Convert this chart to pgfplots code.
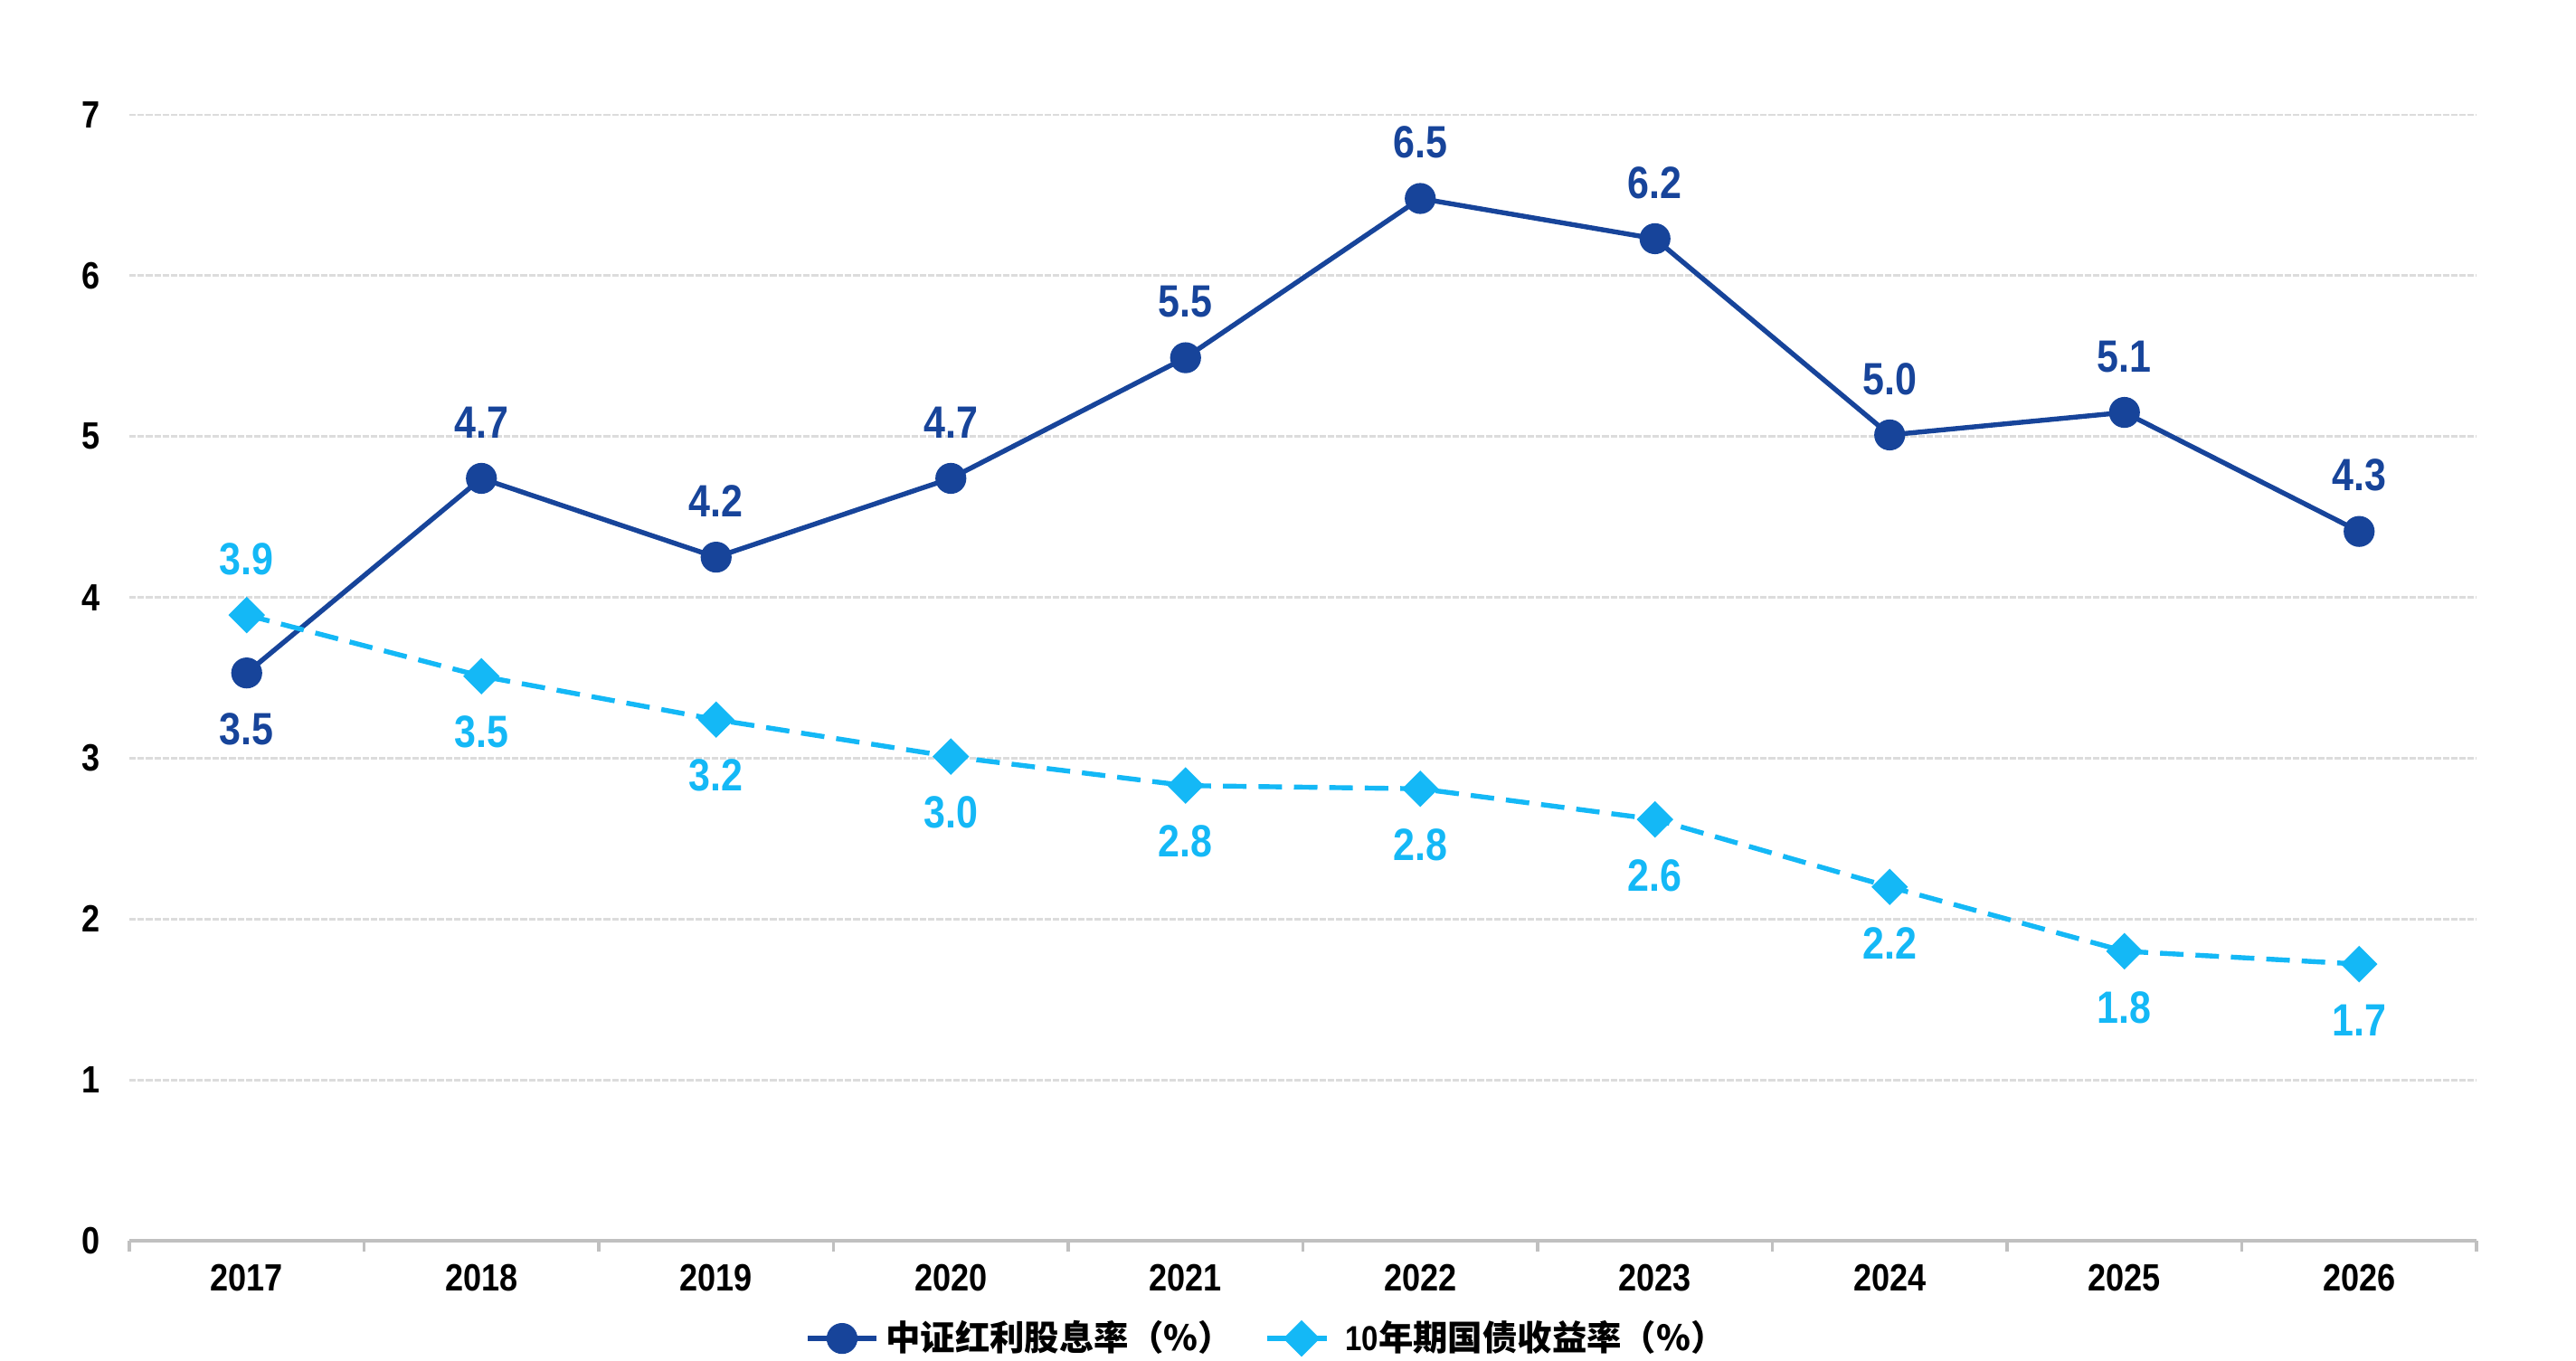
\documentclass[border=0pt]{standalone}
\usepackage{fontspec}
\setmainfont{Liberation Sans}[FakeStretch=0.86]
\newfontfamily\cjk{Noto Sans CJK SC}
\usepackage{pgfplots}
\pgfplotsset{compat=1.18}
\usepackage{pgfplotstable}
\definecolor{dkblue}{HTML}{17449A}
\definecolor{ltblue}{HTML}{14B8F6}
\definecolor{gridgray}{HTML}{DCDCDC}
\definecolor{axgray}{HTML}{C0C0C0}

\pgfplotstableread{
x y lab pos
0 3.53 3.5 -1
1 4.74 4.7 1
2 4.25 4.2 1
3 4.74 4.7 1
4 5.49 5.5 1
5 6.48 6.5 1
6 6.23 6.2 1
7 5.01 5.0 1
8 5.15 5.1 1
9 4.41 4.3 1
}\divtable

\pgfplotstableread{
x y lab pos
0 3.89 3.9 1
1 3.51 3.5 -1
2 3.24 3.2 -1
3 3.01 3.0 -1
4 2.83 2.8 -1
5 2.81 2.8 -1
6 2.62 2.6 -1
7 2.20 2.2 -1
8 1.80 1.8 -1
9 1.72 1.7 -1
}\bondtable

\begin{document}
\begin{tikzpicture}
\path[use as bounding box] (0,0) rectangle (712pt,376pt);
\begin{axis}[
  at={(35.75pt,33pt)}, anchor=south west,
  scale only axis, width=648.75pt, height=311.25pt,
  xmin=-0.5, xmax=9.5, ymin=0, ymax=7,
  axis x line=bottom, axis y line=left,
  x axis line style={-, draw=axgray, line width=0.8pt},
  y axis line style={draw=none},
  xtick={0,...,9},
  xticklabels={2017,2018,2019,2020,2021,2022,2023,2024,2025,2026},
  minor xtick={-0.5,0.5,...,9.5},
  major x tick style={draw=none},
  minor x tick style={draw=axgray, line width=0.8pt},
  minor tick length=3pt,
  tick align=outside,
  ytick={0,...,7},
  yticklabels={0,1,2,3,4,5,6,7},
  ytick style={draw=none},
  ymajorgrids,
  major grid style={draw=gridgray, line width=0.7pt, dash pattern=on 1.8pt off 0.5pt},
  ticklabel style={font=\bfseries\fontsize{10.5}{12}\selectfont, text=black},
  xticklabel style={yshift=1.3pt},
  yticklabel style={xshift=-0.4pt},
  clip=false,
  point meta=explicit symbolic,
  nodes near coords={\pgfplotspointmeta},
  visualization depends on={\thisrow{pos} \as \lpos},
  every node near coord/.style={anchor=center, yshift=\lpos*15.5pt, font=\bfseries\fontsize{12.5}{14}\selectfont},
  legend style={draw=none, fill=none, at={(0.4856,-0.0868)}, anchor=center,
    legend columns=2, font=\bfseries\fontsize{9.6}{12}\selectfont,
    /tikz/every even column/.append style={column sep=7pt}},
  legend cell align=left,
  legend image code/.code={
    \draw[mark repeat=2,mark phase=2,#1] plot coordinates {(0pt,0pt) (9.4pt,0pt) (18.8pt,0pt)};
  },
]
\addplot[color=dkblue, line width=1.35pt, mark=*, mark size=3.6pt,
  mark options={solid, fill=dkblue, draw=dkblue},
  every node near coord/.append style={text=dkblue}]
  table[x=x, y=y, meta=lab] {\divtable};
\addlegendentry{{\cjk\bfseries 中证红利股息率（\%）}}
\addplot[color=ltblue, line width=1.35pt, dash pattern=on 6.5pt off 3.3pt,
  mark=square*, mark size=2.9pt,
  mark options={solid, rotate=45, fill=ltblue, draw=ltblue},
  every node near coord/.append style={text=ltblue}]
  table[x=x, y=y, meta=lab] {\bondtable};
\addlegendentry{10{\cjk\bfseries 年期国债收益率（\%）}}
\end{axis}
\end{tikzpicture}
\end{document}
